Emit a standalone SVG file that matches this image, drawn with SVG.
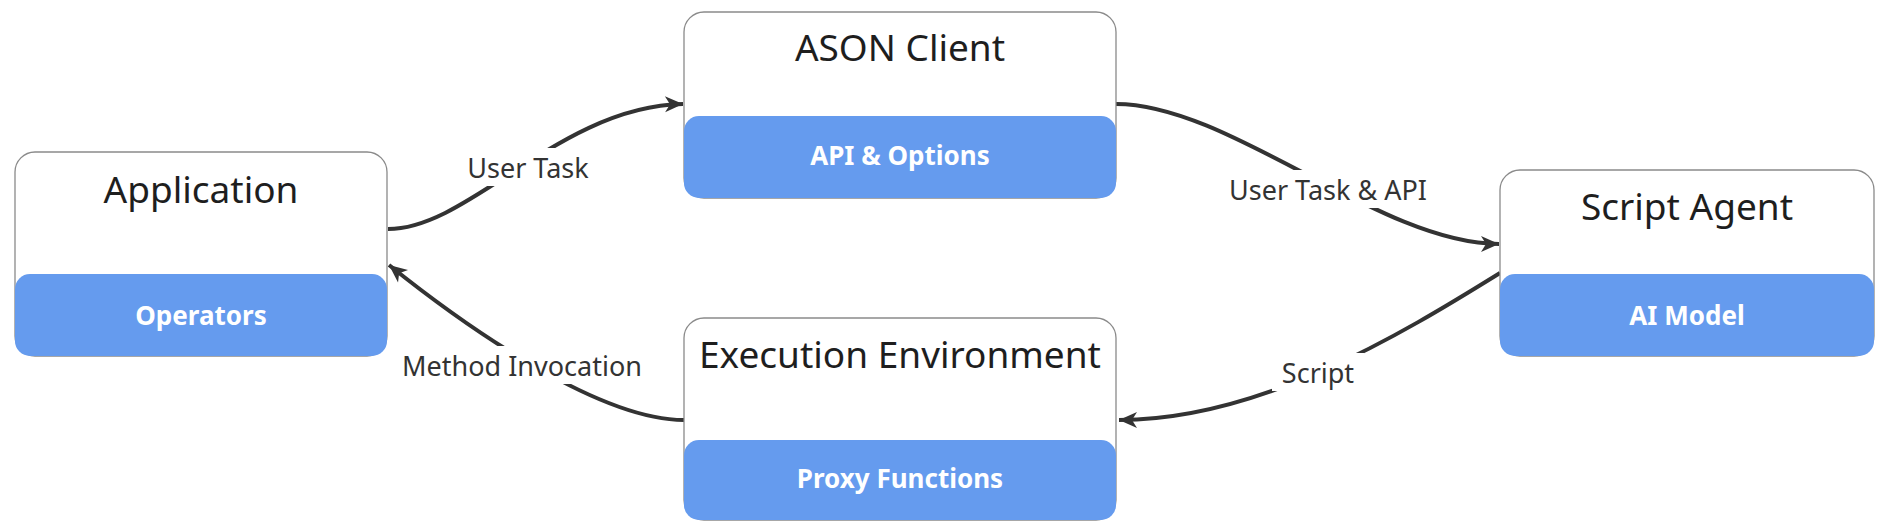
<svg xmlns="http://www.w3.org/2000/svg" width="1880" height="531" viewBox="0 0 1880 531">
<style>
.box{fill:#ffffff;stroke:#8a8a8a;stroke-width:1.3}
.band{fill:#659bee}
.title{font-family:"Noto Sans","Open Sans",sans-serif;font-size:37px;fill:#1e1e1e;text-anchor:middle}
.sub{font-family:"Noto Sans","Open Sans",sans-serif;font-size:26px;font-weight:bold;fill:#ffffff;text-anchor:middle}
.edge{fill:none;stroke:#333333;stroke-width:4}
.lbl{font-family:"Noto Sans","Open Sans",sans-serif;font-size:27px;fill:#333333;text-anchor:middle}
.lblbg{fill:#ffffff}
</style>
<defs>
<marker id="arrow" markerUnits="userSpaceOnUse" markerWidth="22" markerHeight="22" viewBox="0 0 22 22" refX="20" refY="11" orient="auto">
<path d="M2,3 L20,11 L2,19 L7,11 z" fill="#333333"/>
</marker>
</defs>
<rect width="1880" height="531" fill="#ffffff"/>
<g id="connectors">
<path class="edge" d="M388,229 C470,229 560,106 683,104" marker-end="url(#arrow)"/>
<path class="edge" d="M1116,104 C1230,104 1380,244 1499,244" marker-end="url(#arrow)"/>
<path class="edge" d="M1500,273 C1400,335 1260,420 1119,420" marker-end="url(#arrow)"/>
<path class="edge" d="M684,420 C600,420 470,330 389,265" marker-end="url(#arrow)"/>
<rect class="lblbg" x="458" y="148" width="140" height="38"/>
<text class="lbl" x="528" y="178">User Task</text>
<rect class="lblbg" x="1218" y="170" width="220" height="38"/>
<text class="lbl" x="1328" y="200">User Task &amp; API</text>
<rect class="lblbg" x="388" y="346" width="268" height="38"/>
<text class="lbl" x="522" y="376">Method Invocation</text>
<rect class="lblbg" x="1272" y="353" width="92" height="38"/>
<text class="lbl" x="1318" y="383">Script</text>
</g>
<g id="application">
<rect class="box" x="15" y="152" width="372" height="204" rx="20"/>
<rect class="band" x="15" y="274" width="372" height="82" rx="15"/>
<text class="title" x="201" y="203">Application</text>
<text class="sub" x="201" y="325">Operators</text>
</g>
<g id="ason-client">
<rect class="box" x="684" y="12" width="432" height="186" rx="20"/>
<rect class="band" x="684" y="116" width="432" height="82" rx="15"/>
<text class="title" x="900" y="61">ASON Client</text>
<text class="sub" x="900" y="165">API &amp; Options</text>
</g>
<g id="script-agent">
<rect class="box" x="1500" y="170" width="374" height="186" rx="20"/>
<rect class="band" x="1500" y="274" width="374" height="82" rx="15"/>
<text class="title" x="1687" y="220">Script Agent</text>
<text class="sub" x="1687" y="325">AI Model</text>
</g>
<g id="execution-environment">
<rect class="box" x="684" y="318" width="432" height="202" rx="20"/>
<rect class="band" x="684" y="440" width="432" height="80" rx="15"/>
<text class="title" x="900" y="368">Execution Environment</text>
<text class="sub" x="900" y="488">Proxy Functions</text>
</g>
</svg>
